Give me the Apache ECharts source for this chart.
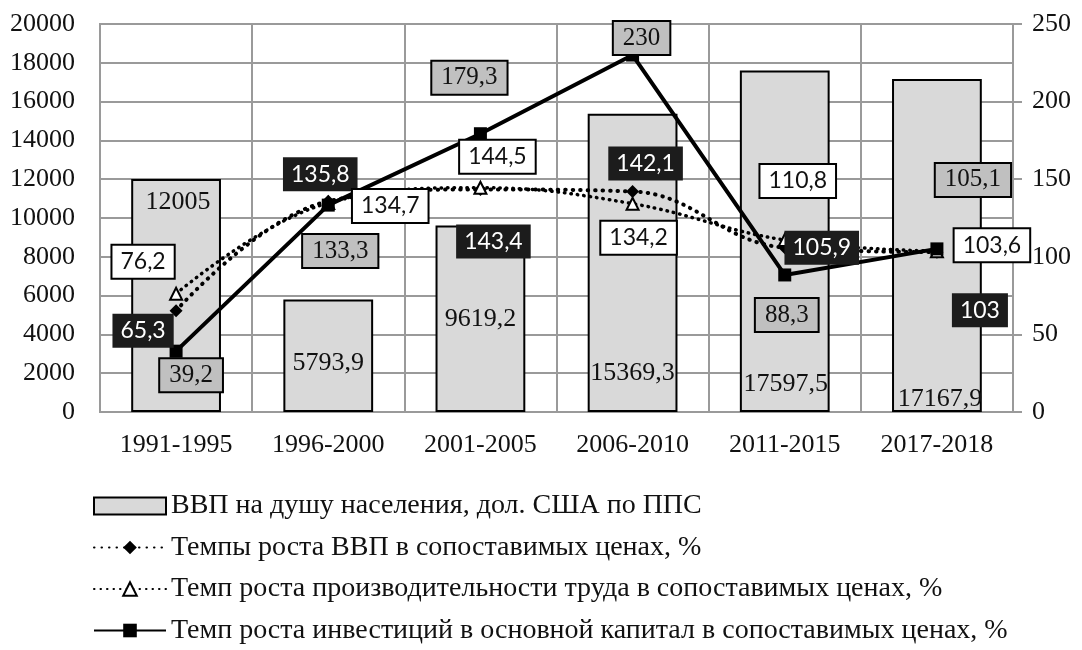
<!DOCTYPE html>
<html>
<head>
<meta charset="utf-8">
<script src="https://cdn.jsdelivr.net/npm/echarts@6/dist/echarts.min.js"></script>
<style>
  html, body { margin: 0; padding: 0; background: #fff; }
  #chart { width: 1082px; height: 650px; }
</style>
</head>
<body>
<div id="chart"></div>
<script>
// категории (периоды)
const periods = ["1991-1995", "1996-2000", "2001-2005", "2006-2010", "2011-2015", "2017-2018"];
// ВВП на душу населения, дол. США по ППС
const gdpPerCapita = [12005, 5793.9, 9619.2, 15369.3, 17597.5, 17167.9];
// темпы роста, %
const gdpGrowth = [65.3, 135.8, 143.4, 142.1, 105.9, 103];
const laborGrowth = [76.2, 134.7, 144.5, 134.2, 110.8, 103.6];
const investGrowth = [39.2, 133.3, 179.3, 230, 88.3, 105.1];

const names = [
  "ВВП на душу населения, дол. США по ППС",
  "Темпы роста ВВП в сопоставимых ценах, %",
  "Темп роста производительности труда в сопоставимых ценах, %",
  "Темп роста инвестиций в основной капитал в сопоставимых ценах, %"
];

// смещения подписей (как на исходной картинке)
const barLabelOffsets = [[2, -192], [0, -31], [0, -75], [0, -21], [1, -10], [3, 5]];
const gdpLabelOffsets = [[-33, 20], [-8, -27], [13, 52], [13, -28], [37, 0], [43, 58]];
const laborLabelOffsets = [[-33, -32], [62, 3], [17, -31], [6, 34], [13, -59], [55, -6]];
const investLabelOffsets = [[15, 24], [12, 46], [-11, -56], [9, -17], [2, 40], [36, -69]];

const serif = '"Liberation Serif", "Times New Roman", serif';
const sans = 'Lato, "Open Sans", sans-serif';
const fmt = (p) => String(p.value).replace(".", ",");

const withOffsets = (values, offsets) =>
  values.map((v, i) => ({ value: v, label: { offset: offsets[i] } }));

const myChart = echarts.init(document.getElementById("chart"));
const option = {
  backgroundColor: "#fff",
  animation: false,
  grid: {
    left: 100,
    right: 69,
    top: 24,
    bottom: 238,
    show: true,
    borderColor: "#9a9a9a",
    borderWidth: 2
  },
  legend: {
    orient: "vertical",
    left: 88,
    top: 487,
    itemWidth: 72,
    itemHeight: 17,
    itemGap: 13.5,
    textStyle: { fontFamily: serif, fontSize: 28, color: "#111" },
    data: [
      { name: names[0], icon: "rect" },
      names[1],
      names[2],
      names[3]
    ]
  },
  xAxis: {
    type: "category",
    data: periods,
    axisLine: { show: true, lineStyle: { color: "#9a9a9a", width: 2 } },
    axisTick: { show: false },
    splitLine: { show: true, lineStyle: { color: "#9a9a9a", width: 2 } },
    axisLabel: { fontFamily: serif, fontSize: 26, color: "#111", margin: 20 }
  },
  yAxis: [
    {
      type: "value",
      min: 0,
      max: 20000,
      interval: 2000,
      axisLine: { show: false },
      axisTick: { show: false },
      splitLine: { show: true, lineStyle: { color: "#9a9a9a", width: 2 } },
      axisLabel: {
        fontFamily: serif, fontSize: 26, color: "#111", margin: 25,
        formatter: (v) => String(v)
      }
    },
    {
      type: "value",
      min: 0,
      max: 250,
      interval: 50,
      position: "right",
      axisLine: { show: false },
      axisTick: { show: true, length: 9, lineStyle: { color: "#9a9a9a", width: 2 } },
      splitLine: { show: false },
      axisLabel: { fontFamily: serif, fontSize: 26, color: "#111", margin: 19 }
    }
  ],
  series: [
    {
      name: names[0],
      type: "bar",
      barWidth: "59%",
      data: withOffsets(gdpPerCapita, barLabelOffsets),
      itemStyle: { color: "#d9d9d9", borderColor: "#000", borderWidth: 2 },
      label: {
        show: true,
        position: "insideBottom",
        distance: 5,
        fontFamily: serif,
        fontSize: 26,
        color: "#111",
        formatter: fmt
      }
    },
    {
      name: names[1],
      type: "line",
      yAxisIndex: 1,
      smooth: 0.4,
      data: withOffsets(gdpGrowth, gdpLabelOffsets),
      symbol: "diamond",
      symbolSize: 13,
      itemStyle: { color: "#000" },
      lineStyle: { color: "#000", width: 4, type: [0.5, 7], cap: "round" },
      label: {
        show: true,
        position: "inside",
        fontFamily: sans,
        fontSize: 23,
        color: "#fff",
        backgroundColor: "#1c1c1c",
        padding: [6, 8, 5, 8],
        formatter: fmt
      }
    },
    {
      name: names[2],
      type: "line",
      yAxisIndex: 1,
      smooth: 0.4,
      data: withOffsets(laborGrowth, laborLabelOffsets),
      symbol: "triangle",
      symbolSize: 12,
      itemStyle: { color: "#fff", borderColor: "#000", borderWidth: 2 },
      lineStyle: { color: "#000", width: 3.5, type: [0.5, 6], cap: "round" },
      label: {
        show: true,
        position: "inside",
        fontFamily: sans,
        fontSize: 23,
        color: "#111",
        backgroundColor: "#fff",
        borderColor: "#000",
        borderWidth: 2,
        padding: [5, 8, 4, 8],
        formatter: fmt
      }
    },
    {
      name: names[3],
      type: "line",
      yAxisIndex: 1,
      data: withOffsets(investGrowth, investLabelOffsets),
      symbol: "rect",
      symbolSize: 13,
      itemStyle: { color: "#000" },
      lineStyle: { color: "#000", width: 4 },
      label: {
        show: true,
        position: "inside",
        fontFamily: serif,
        fontSize: 25,
        color: "#111",
        backgroundColor: "#c0c0c0",
        borderColor: "#000",
        borderWidth: 2,
        padding: [4, 9, 3, 9],
        formatter: fmt
      }
    }
  ]
};
myChart.setOption(option);
</script>
</body>
</html>
